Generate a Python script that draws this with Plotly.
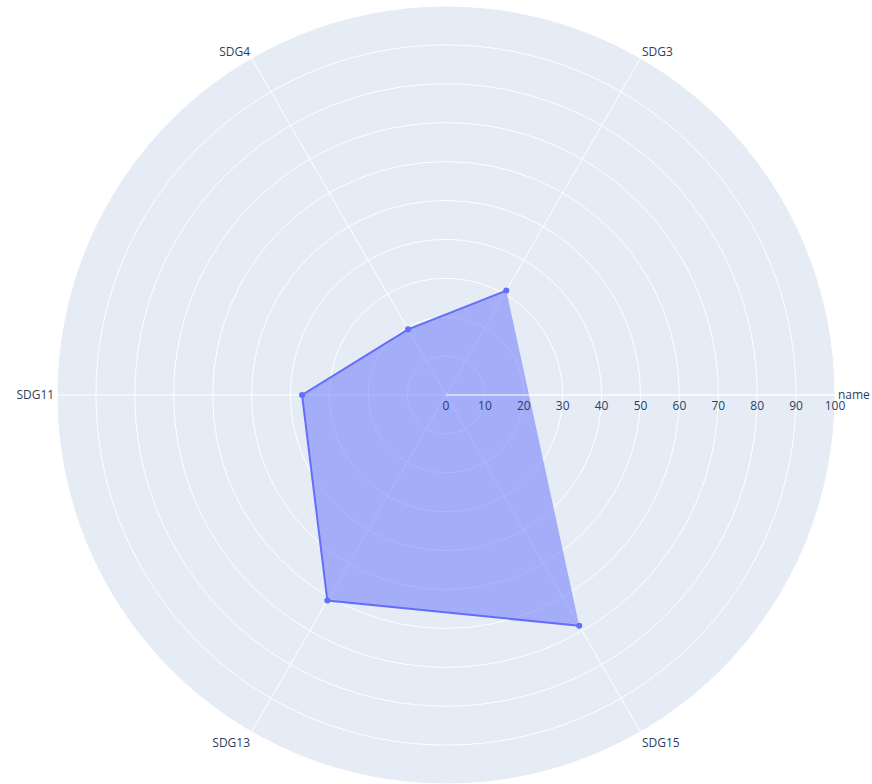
import plotly.graph_objects as go

categories = ["name", "SDG3", "SDG4", "SDG11", "SDG13", "SDG15"]
theta_vals = ["SDG3", "SDG4", "SDG11", "SDG13", "SDG15"]
r_vals = [31, 19.5, 37, 61, 68.5]
radial_ticks = [0, 10, 20, 30, 40, 50, 60, 70, 80, 90, 100]

fig = go.Figure()
fig.add_trace(go.Scatterpolar(
    r=r_vals,
    theta=theta_vals,
    mode="lines+markers",
    fill="toself",
    line=dict(color="#636efa", width=2),
    marker=dict(size=6, color="#636efa"),
    fillcolor="rgba(99,110,250,0.5)",
    showlegend=False,
))

fig.update_layout(
    width=872,
    height=784,
    template="plotly",
    margin=dict(l=57, r=37, t=6, b=0),
    polar=dict(
        angularaxis=dict(
            type="category",
            categoryorder="array",
            categoryarray=categories,
            direction="counterclockwise",
            rotation=0,
        ),
        radialaxis=dict(
            range=[0, 100],
            tickvals=radial_ticks,
            angle=0,
        ),
    ),
)

fig.write_html(
    "out.html",
    config={"displayModeBar": False},
    post_script="document.body.style.margin='0';document.body.style.overflow='hidden';",
)
